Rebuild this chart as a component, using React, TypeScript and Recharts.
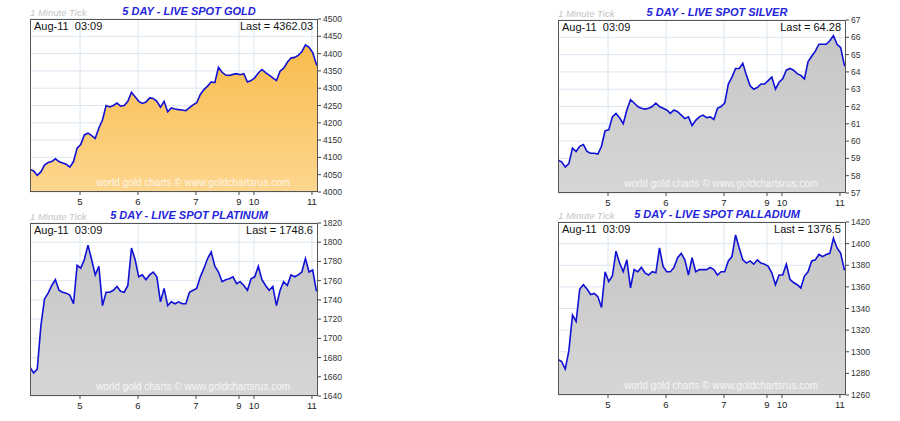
import { AreaChart, Area, XAxis, YAxis, CartesianGrid } from "recharts";

// trading hours since the start of the 5 day window (weekend removed)
const hours = [
  0, 1.5, 3, 4.5, 6, 7.5, 9, 10.5, 12, 13.5, 15, 16.5, 18, 19.5, 21, 22.5, 24, 25.5, 27, 28.5,
  30, 31.5, 33, 34.5, 36, 37.5, 39, 40.5, 42, 43.5, 45, 46.5, 48, 49.5, 51, 52.5, 54, 55.5, 57, 58.5,
  60, 61.5, 63, 64.5, 66, 67.5, 69, 70.5, 72, 73.5, 75, 76.5, 78, 79.5, 81, 82.5, 84, 85.5, 87, 88.5,
  90, 91.5, 93, 94.5, 96, 97.5, 99, 100.5, 102, 103.5, 105, 106.5, 108, 109.5, 111, 112.5, 114, 115.5, 117, 118.5,
  119.2,
];

const dayTicks = [20.7, 44.7, 68.7, 86.5, 92.7, 116.7];
const dayLabels = ["5", "6", "7", "9", "10", "11"];

const goldPrices = [
  4065, 4061, 4048, 4058, 4078, 4085, 4088, 4096, 4088, 4084,
  4080, 4072, 4088, 4127, 4137, 4165, 4170, 4163, 4155, 4185,
  4208, 4250, 4246, 4250, 4257, 4248, 4250, 4262, 4288, 4275,
  4262, 4256, 4260, 4272, 4270, 4262, 4245, 4262, 4232, 4243,
  4240, 4238, 4237, 4235, 4244, 4252, 4258, 4282, 4296, 4306,
  4318, 4316, 4360, 4346, 4338, 4337, 4340, 4342, 4339, 4342,
  4318, 4322, 4330, 4344, 4354, 4345, 4338, 4330, 4322, 4349,
  4358, 4375, 4387, 4389, 4395, 4405, 4425, 4418, 4403, 4370,
  4362.03,
];

const silverPrices = [
  58.9, 58.8, 58.5, 58.7, 59.6, 59.4, 59.7, 59.8, 59.4, 59.3,
  59.3, 59.25, 59.7, 60.6, 60.65, 61.4, 61.6, 61.35, 61.0, 61.8,
  62.4, 62.2, 62.0, 61.9, 61.85, 61.9, 62.0, 62.2, 62.0, 61.9,
  61.8, 61.6, 61.8, 61.7, 61.5, 61.3, 61.4, 60.9, 61.2, 61.4,
  61.5, 61.35, 61.4, 61.25, 61.9, 62.0, 62.2, 63.3, 63.7, 64.2,
  64.2, 64.5, 63.8, 63.2, 63.0, 63.1, 63.3, 63.3, 63.5, 63.7,
  63.0, 63.4, 63.6, 64.1, 64.2, 64.1, 63.9, 63.8, 63.6, 64.6,
  64.9, 65.2, 65.6, 65.6, 65.6, 65.8, 66.1, 65.6, 65.4, 64.4,
  64.28,
];

const platinumPrices = [
  1670, 1664, 1668, 1713, 1741, 1747, 1755, 1761, 1750, 1748,
  1747, 1745, 1736, 1776, 1773, 1782, 1797, 1782, 1766, 1775,
  1734, 1748, 1748, 1750, 1754, 1749, 1748, 1755, 1794, 1782,
  1764, 1766, 1761, 1766, 1769, 1764, 1738, 1752, 1734, 1738,
  1736, 1738, 1736, 1736, 1748, 1750, 1752, 1764, 1773, 1783,
  1790, 1775, 1769, 1759, 1761, 1762, 1764, 1757, 1759, 1755,
  1750, 1762, 1764, 1775, 1761, 1755, 1750, 1754, 1734, 1750,
  1759, 1755, 1766, 1764, 1766, 1769, 1783, 1769, 1771, 1750,
  1748.6,
];

const palladiumPrices = [
  1293, 1291, 1284, 1301, 1334, 1328, 1358, 1362, 1358, 1353,
  1354, 1351, 1341, 1374, 1365, 1370, 1393, 1382, 1374, 1385,
  1359, 1376, 1374, 1378, 1373, 1371, 1374, 1373, 1396, 1379,
  1374, 1374, 1378, 1387, 1391, 1385, 1371, 1387, 1374, 1376,
  1376, 1376, 1378, 1376, 1371, 1374, 1374, 1384, 1388, 1408,
  1396, 1385, 1382, 1384, 1381, 1385, 1382, 1381, 1379, 1373,
  1362, 1371, 1371, 1381, 1367, 1364, 1362, 1359, 1370, 1374,
  1384, 1385, 1390, 1388, 1390, 1391, 1405, 1396, 1391, 1376,
  1376.5,
];

const goldTicks = [4000, 4050, 4100, 4150, 4200, 4250, 4300, 4350, 4400, 4450, 4500];
const silverTicks = [57, 58, 59, 60, 61, 62, 63, 64, 65, 66, 67];
const platinumTicks = [1640, 1660, 1680, 1700, 1720, 1740, 1760, 1780, 1800, 1820];
const palladiumTicks = [1260, 1280, 1300, 1320, 1340, 1360, 1380, 1400, 1420];

const PLOT_W = 288;
const PLOT_H = 173;
const AXIS_W = 40;
const TOP_PAD = 6;
const font = "'Liberation Sans', Arial, sans-serif";

interface PanelProps {
  left: number;
  top: number;
  id: string;
  title: string;
  last: string;
  values: number[];
  yTicks: number[];
  topColor: string;
  bottomColor: string;
}

function Panel({ left, top, id, title, last, values, yTicks, topColor, bottomColor }: PanelProps) {
  const data = hours.map((h, i) => ({ h, v: values[i] }));
  const lo = yTicks[0];
  const hi = yTicks[yTicks.length - 1];

  return (
    <div style={{ position: "absolute", left, top, width: PLOT_W + AXIS_W, height: PLOT_H + 24 }}>
      <div
        style={{
          position: "absolute",
          left: 0,
          top: -12,
          fontSize: 9.5,
          fontStyle: "italic",
          color: "#c4c4c4",
          fontFamily: font,
          whiteSpace: "nowrap",
        }}
      >
        1 Minute Tick
      </div>
      <div
        style={{
          position: "absolute",
          left: 159,
          top: -14,
          transform: "translateX(-50%)",
          fontSize: 11,
          fontWeight: "bold",
          fontStyle: "italic",
          color: "#2424dc",
          fontFamily: font,
          whiteSpace: "nowrap",
        }}
      >
        {title}
      </div>

      <div style={{ position: "absolute", left: 0, top: -TOP_PAD }}>
        <AreaChart
          width={PLOT_W + AXIS_W}
          height={PLOT_H + TOP_PAD + 24}
          data={data}
          margin={{ top: TOP_PAD, right: 0, left: 0, bottom: 0 }}
        >
          <defs>
            <linearGradient id={id} x1="0" y1="0" x2="0" y2="1">
              <stop offset="0%" stopColor={topColor} />
              <stop offset="100%" stopColor={bottomColor} />
            </linearGradient>
          </defs>
          <CartesianGrid
            stroke="#dce6f0"
            strokeWidth={1}
            horizontalValues={yTicks}
            verticalValues={dayTicks}
          />
          <XAxis
            dataKey="h"
            type="number"
            domain={[0, 119.2]}
            ticks={dayTicks}
            tickFormatter={(t: number) => dayLabels[dayTicks.indexOf(t)]}
            height={24}
            axisLine={false}
            tickLine={{ stroke: "#444" }}
            tickSize={3}
            tickMargin={3}
            tick={{ fontSize: 9.5, fill: "#222", fontFamily: font }}
            interval={0}
            allowDataOverflow
          />
          <YAxis
            orientation="right"
            type="number"
            domain={[lo, hi]}
            ticks={yTicks}
            width={AXIS_W}
            axisLine={false}
            tickLine={{ stroke: "#444" }}
            tickSize={3}
            tick={{ fontSize: 8.5, fill: "#333", fontFamily: font, textAnchor: "start" }}
            interval={0}
            allowDataOverflow
          />
          <Area
            type="linear"
            dataKey="v"
            baseValue={lo}
            stroke="#1010d6"
            strokeWidth={1.6}
            fill={`url(#${id})`}
            fillOpacity={1}
            isAnimationActive={false}
            dot={false}
            activeDot={false}
          />
        </AreaChart>
      </div>

      <div
        style={{
          position: "absolute",
          left: 0,
          top: 0,
          width: PLOT_W,
          height: PLOT_H,
          boxSizing: "border-box",
          border: "1px solid #555",
          pointerEvents: "none",
        }}
      />
      <div
        style={{
          position: "absolute",
          left: 4,
          top: 1,
          fontSize: 11,
          color: "#111",
          fontFamily: font,
          whiteSpace: "pre",
        }}
      >
        {"Aug-11  03:09"}
      </div>
      <div
        style={{
          position: "absolute",
          right: AXIS_W + 5,
          top: 1,
          fontSize: 11,
          color: "#111",
          fontFamily: font,
          whiteSpace: "nowrap",
        }}
      >
        {"Last = " + last}
      </div>
      <div
        style={{
          position: "absolute",
          left: 163,
          top: PLOT_H - 15,
          transform: "translateX(-50%)",
          fontSize: 10,
          color: "rgba(255,255,255,0.8)",
          fontFamily: font,
          whiteSpace: "nowrap",
        }}
      >
        world gold charts © www.goldchartsrus.com
      </div>
    </div>
  );
}

export default function App() {
  return (
    <div
      style={{
        position: "absolute",
        left: 0,
        top: 0,
        width: 900,
        height: 421,
        background: "#ffffff",
        overflow: "hidden",
      }}
    >
      <Panel
        left={30}
        top={19}
        id="goldFill"
        title="5 DAY - LIVE SPOT GOLD"
        last="4362.03"
        values={goldPrices}
        yTicks={goldTicks}
        topColor="#f8bc4c"
        bottomColor="#fdd690"
      />
      <Panel
        left={558}
        top={20}
        id="silverFill"
        title="5 DAY - LIVE SPOT SILVER"
        last="64.28"
        values={silverPrices}
        yTicks={silverTicks}
        topColor="#c6c6c6"
        bottomColor="#d6d6d6"
      />
      <Panel
        left={30}
        top={223}
        id="platinumFill"
        title="5 DAY - LIVE SPOT PLATINUM"
        last="1748.6"
        values={platinumPrices}
        yTicks={platinumTicks}
        topColor="#c6c6c6"
        bottomColor="#d6d6d6"
      />
      <Panel
        left={558}
        top={222}
        id="palladiumFill"
        title="5 DAY - LIVE SPOT PALLADIUM"
        last="1376.5"
        values={palladiumPrices}
        yTicks={palladiumTicks}
        topColor="#c6c6c6"
        bottomColor="#d6d6d6"
      />
    </div>
  );
}
